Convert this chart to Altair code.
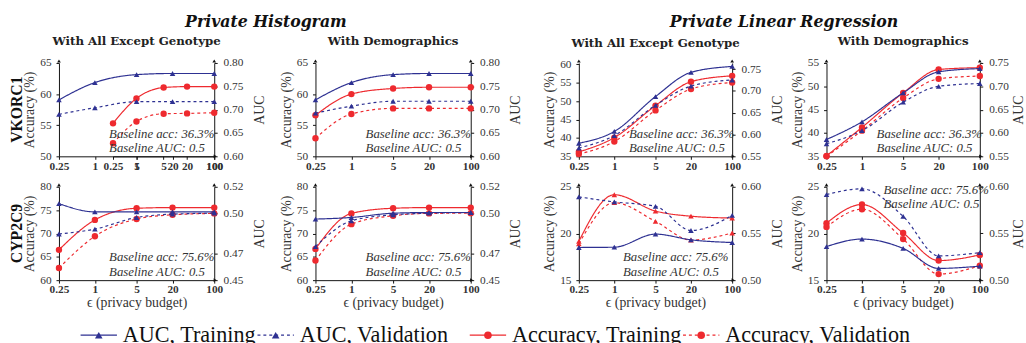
import altair as alt
import pandas as pd

# privacy budgets on the x axis
EPS = [0.25, 1, 5, 20, 100]

# VKORC1, private histogram, all attributes except genotype
h_vk_all_auc_train = [0.721, 0.758, 0.775, 0.7775, 0.7775]
h_vk_all_auc_val = [0.690, 0.704, 0.717, 0.717, 0.717]
h_vk_all_acc_train = [55.3, 59.3, 61.05, 61.2, 61.2]
h_vk_all_acc_val = [52.1, 55.6, 56.85, 56.9, 57.0]

# VKORC1, private histogram, with demographics
h_vk_demo_auc_train = [0.721, 0.758, 0.775, 0.7775, 0.7775]
h_vk_demo_auc_val = [0.6925, 0.7075, 0.718, 0.718, 0.718]
h_vk_demo_acc_train = [56.6, 60.0, 60.9, 61.1, 61.1]
h_vk_demo_acc_val = [52.9, 56.8, 57.7, 57.7, 57.7]

# VKORC1, private linear regression, all attributes except genotype
l_vk_all_auc_train = [0.580, 0.607, 0.687, 0.7425, 0.756]
l_vk_all_auc_val = [0.569, 0.5975, 0.667, 0.711, 0.725]
l_vk_all_acc_train = [36.2, 40.1, 48.8, 55.3, 56.9]
l_vk_all_acc_val = [35.6, 39.0, 47.5, 53.3, 55.1]

# VKORC1, private linear regression, with demographics
l_vk_demo_auc_train = [0.586, 0.624, 0.686, 0.731, 0.738]
l_vk_demo_auc_val = [0.577, 0.605, 0.666, 0.700, 0.706]
l_vk_demo_acc_train = [35.1, 41.2, 48.6, 53.6, 54.0]
l_vk_demo_acc_val = [35.0, 40.5, 47.5, 51.6, 52.2]

# CYP2C9, private histogram, all attributes except genotype
h_cy_all_auc_train = [0.5074, 0.5012, 0.5012, 0.5012, 0.5012]
h_cy_all_auc_val = [0.4846, 0.4883, 0.497, 0.4995, 0.5002]
h_cy_all_acc_train = [66.5, 72.9, 75.4, 75.55, 75.55]
h_cy_all_acc_val = [62.6, 69.4, 73.1, 74.0, 74.3]

# CYP2C9, private histogram, with demographics
h_cy_demo_auc_train = [0.4958, 0.497, 0.5002, 0.5007, 0.5007]
h_cy_demo_auc_val = [0.4752, 0.4945, 0.499, 0.5002, 0.5007]
h_cy_demo_acc_train = [66.7, 74.3, 75.4, 75.55, 75.55]
h_cy_demo_acc_val = [64.2, 72.0, 73.8, 74.3, 74.35]

# CYP2C9, private linear regression, all attributes except genotype
l_cy_all_auc_train = [0.535, 0.5353, 0.5493, 0.5432, 0.5403]
l_cy_all_auc_val = [0.5892, 0.5838, 0.5791, 0.5532, 0.5694]
l_cy_all_acc_train = [19.15, 24.15, 22.4, 21.85, 21.65]
l_cy_all_acc_val = [18.9, 23.3, 21.3, 19.3, 20.05]

# CYP2C9, private linear regression, with demographics
l_cy_demo_auc_train = [0.536, 0.544, 0.534, 0.5126, 0.515]
l_cy_demo_auc_val = [0.5917, 0.5978, 0.5683, 0.526, 0.5295]
l_cy_demo_acc_train = [21.1, 23.1, 20.05, 17.1, 17.7]
l_cy_demo_acc_val = [20.7, 22.6, 19.4, 15.65, 16.55]

BASELINE_VK = ["Baseline acc: 36.3%", "Baseline AUC: 0.5"]
BASELINE_CY = ["Baseline acc: 75.6%", "Baseline AUC: 0.5"]

LEGEND_LABELS = ["AUC, Training", "AUC, Validation", "Accuracy, Training", "Accuracy, Validation"]
LEGEND_SETS = ["Training", "Validation", "Training", "Validation"]

BLUE = "#2e3192"
RED = "#ee2a2f"
SERIF = "Liberation Serif"
BOLD = "DejaVu Serif"
INK = "#333333"
AXIS_INK = "#111111"
H = 95

DASH = alt.Scale(domain=["Training", "Validation"], range=[[1, 0], [3, 3]])


def frame(train, val):
    return pd.DataFrame({
        "eps": EPS + EPS,
        "value": list(train) + list(val),
        "set": ["Training"] * len(train) + ["Validation"] * len(val),
    })


def x_axis(title):
    kw = dict(values=EPS, format="~g", orient="bottom", labelFontWeight="bold",
              tickSize=3, labelPadding=1, titlePadding=0, labelFlush=False)
    if title:
        return alt.Axis(title=title, **kw)
    return alt.Axis(title=None, **kw)


def series(df, x, y, color, shape):
    base = alt.Chart(df).encode(x=x, y=y)
    line = base.mark_line(color=color, strokeWidth=1.2, interpolate="monotone").encode(
        strokeDash=alt.StrokeDash("set:N", scale=DASH, legend=None)
    )
    pts = base.mark_point(shape=shape, filled=True, color=color, opacity=1,
                          size=42 if shape == "circle" else 32)
    return alt.layer(line, pts)


def arrowheads(width):
    # small arrow tips closing the axis lines (top of both y axes, right end of x axis)
    one = pd.DataFrame({"k": [0]})
    tip = dict(filled=True, color=AXIS_INK, opacity=1, size=14)
    return [
        alt.Chart(one).mark_point(shape="triangle-up", **tip).encode(x=alt.value(0), y=alt.value(-2)),
        alt.Chart(one).mark_point(shape="triangle-up", **tip).encode(x=alt.value(width), y=alt.value(-2)),
        alt.Chart(one).mark_point(shape="triangle-right", **tip).encode(x=alt.value(width + 1), y=alt.value(H)),
    ]


def panel(auc_train, auc_val, acc_train, acc_val, *, width, acc_dom, acc_ticks,
          auc_dom, auc_ticks, notes, note_y=66, note_x=51, title=None, x_title=None,
          row_label=None, acc_range=None, acc_shape="circle", auc_title_pad=10):
    xs = alt.Scale(type="log", domain=[0.25, 100])
    x_auc = alt.X("eps:Q", scale=xs, axis=x_axis(x_title))
    if acc_range:
        x_acc = alt.X("eps:Q", scale=alt.Scale(type="log", domain=[0.25, 100], range=acc_range),
                      axis=x_axis(None))
    else:
        x_acc = x_auc

    y_acc = alt.Y("value:Q", scale=alt.Scale(domain=acc_dom, nice=False, zero=False),
                  axis=alt.Axis(orient="left", values=acc_ticks, title="Accuracy (%)",
                                tickSize=3, labelPadding=5, titlePadding=3))
    y_auc = alt.Y("value:Q", scale=alt.Scale(domain=auc_dom, nice=False, zero=False),
                  axis=alt.Axis(orient="right", values=auc_ticks, format=".2f", title="AUC",
                                titleAngle=270, titleBaseline="top", tickSize=3,
                                labelPadding=6, titlePadding=auc_title_pad))

    acc = series(frame(acc_train, acc_val), x_acc, y_acc, RED, acc_shape)
    auc = series(frame(auc_train, auc_val), x_auc, y_auc, BLUE, "triangle-up")

    note = alt.Chart(pd.DataFrame({"t": ["\n".join(notes)]})).mark_text(
        align="left", baseline="top", font=SERIF, fontStyle="italic", fontSize=13,
        color=INK, lineBreak="\n", lineHeight=14.5
    ).encode(text="t:N", x=alt.value(note_x), y=alt.value(note_y))

    layers = [acc, auc, note] + arrowheads(width)
    if row_label:
        layers.append(alt.Chart(pd.DataFrame({"t": [row_label]})).mark_text(
            angle=270, font=SERIF, fontWeight="bold", fontSize=16, color="#111111",
            baseline="middle", align="center"
        ).encode(text="t:N", x=alt.value(-43), y=alt.value(H / 2)))

    ch = alt.layer(*layers).resolve_scale(
        y="independent", x="independent" if acc_range else "shared"
    ).properties(width=width, height=H)
    if title:
        ch = ch.properties(title=alt.TitleParams(title, font=BOLD, fontSize=12,
                                                 fontWeight="bold", color="#222222", offset=9))
    return ch


EPS_TITLE = "\u03f5 (privacy budget)"
VK_H = dict(acc_dom=[50, 65], acc_ticks=[50, 55, 60, 65], auc_dom=[0.6, 0.8],
            auc_ticks=[0.6, 0.65, 0.7, 0.75, 0.8], notes=BASELINE_VK, width=158)
CY_H = dict(acc_dom=[60, 80], acc_ticks=[60, 65, 70, 75, 80], auc_dom=[0.45, 0.52],
            auc_ticks=[0.45, 0.47, 0.5, 0.52], notes=BASELINE_CY, width=158, x_title=EPS_TITLE)
CY_L = dict(acc_dom=[15, 25], acc_ticks=[15, 20, 25], auc_dom=[0.5, 0.6],
            auc_ticks=[0.5, 0.55, 0.6], notes=BASELINE_CY, width=156, x_title=EPS_TITLE)

p1 = panel(h_vk_all_auc_train, h_vk_all_auc_val, h_vk_all_acc_train, h_vk_all_acc_val,
           title="With All Except Genotype", row_label="VKORC1", acc_range=[55, 158], **VK_H)
p2 = panel(h_vk_demo_auc_train, h_vk_demo_auc_val, h_vk_demo_acc_train, h_vk_demo_acc_val,
           title="With Demographics", **VK_H)
p3 = panel(l_vk_all_auc_train, l_vk_all_auc_val, l_vk_all_acc_train, l_vk_all_acc_val,
           title="With All Except Genotype", acc_dom=[35, 60.4], acc_ticks=[35, 40, 45, 50, 55, 60],
           auc_dom=[0.55, 0.764], auc_ticks=[0.55, 0.6, 0.65, 0.7, 0.75], notes=BASELINE_VK, width=156)
p4 = panel(l_vk_demo_auc_train, l_vk_demo_auc_val, l_vk_demo_acc_train, l_vk_demo_acc_val,
           title="With Demographics", acc_dom=[35, 55], acc_ticks=[35, 40, 45, 50, 55],
           auc_dom=[0.55, 0.75], auc_ticks=[0.55, 0.6, 0.65, 0.7, 0.75], notes=BASELINE_VK,
           width=156, auc_title_pad=3)
p5 = panel(h_cy_all_auc_train, h_cy_all_auc_val, h_cy_all_acc_train, h_cy_all_acc_val,
           row_label="CYP2C9", **CY_H)
p6 = panel(h_cy_demo_auc_train, h_cy_demo_auc_val, h_cy_demo_acc_train, h_cy_demo_acc_val, **CY_H)
p7 = panel(l_cy_all_auc_train, l_cy_all_auc_val, l_cy_all_acc_train, l_cy_all_acc_val,
           acc_shape="triangle-up", note_x=45, **CY_L)
p8 = panel(l_cy_demo_auc_train, l_cy_demo_auc_val, l_cy_demo_acc_train, l_cy_demo_acc_val,
           note_y=-3, note_x=58, auc_title_pad=3, **CY_L)

group_title = dict(font=BOLD, fontSize=16, fontStyle="italic", fontWeight="bold",
                   color="#111111", anchor="middle", offset=6)
hist = alt.vconcat(alt.hconcat(p1, p2, spacing=12), alt.hconcat(p5, p6, spacing=12),
                   spacing=9).properties(title=alt.TitleParams("Private Histogram", **group_title))
linreg = alt.vconcat(alt.hconcat(p3, p4, spacing=5), alt.hconcat(p7, p8, spacing=5),
                     spacing=9).properties(title=alt.TitleParams("Private Linear Regression", **group_title))
top = alt.hconcat(hist, linreg, spacing=19)

# legend row: a short line with its marker, then the label
LEG_W = 900
LEG_ORIGIN = 60
leg_start = [s - LEG_ORIGIN for s in (82, 262, 478, 695)]
leg = pd.DataFrame({
    "label": LEGEND_LABELS,
    "set": LEGEND_SETS,
    "x0": leg_start,
    "x1": [s + 37 for s in leg_start],
    "xm": [s + 18.5 for s in leg_start],
    "xt": [s + 43 for s in leg_start],
    "kind": ["AUC", "AUC", "Accuracy", "Accuracy"],
})
lx = alt.Scale(domain=[0, LEG_W], range=[0, LEG_W])
color = alt.Color("kind:N", scale=alt.Scale(domain=["AUC", "Accuracy"], range=[BLUE, RED]), legend=None)
lbase = alt.Chart(leg)
legend = alt.layer(
    lbase.mark_rule(strokeWidth=1.3).encode(
        x=alt.X("x0:Q", scale=lx, axis=None), x2="x1:Q", y=alt.value(10), color=color,
        strokeDash=alt.StrokeDash("set:N", scale=alt.Scale(domain=["Training", "Validation"],
                                                           range=[[1, 0], [5, 4]]), legend=None)),
    lbase.mark_point(filled=True, opacity=1, size=60).encode(
        x=alt.X("xm:Q", scale=lx, axis=None), y=alt.value(10), color=color,
        shape=alt.Shape("kind:N", scale=alt.Scale(domain=["AUC", "Accuracy"],
                                                  range=["triangle-up", "circle"]), legend=None)),
    lbase.mark_text(align="left", baseline="middle", font=SERIF, fontSize=22.5, color="#111111").encode(
        x=alt.X("xt:Q", scale=lx, axis=None), y=alt.value(10), text="label:N"),
).properties(width=LEG_W, height=20)

chart = alt.vconcat(top, legend, spacing=15).properties(
    padding={"left": 9, "top": 11, "right": 0, "bottom": 0}
).configure_view(stroke=None).configure_axis(
    labelFont=SERIF, labelFontSize=11.5, labelColor=INK, titleFont=SERIF,
    titleFontSize=14, titleFontWeight="normal", titleColor=INK, domainColor=AXIS_INK,
    tickColor=AXIS_INK, grid=False, domainWidth=1
).configure_concat(spacing=4)

chart.save("out.html", embed_options={"renderer": "svg", "actions": False})
